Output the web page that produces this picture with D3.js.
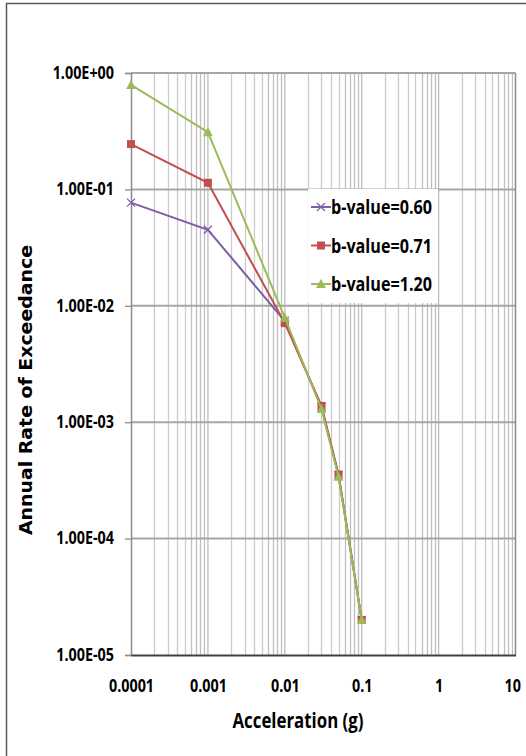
<!DOCTYPE html>
<html>
<head>
<meta charset="utf-8">
<script src="https://cdn.jsdelivr.net/npm/d3@7"></script>
<style>
  body { margin: 0; background: #fff; overflow: hidden; }
  text { fill: #000; }
</style>
</head>
<body>
<div id="chart-area"></div>
<script>
//////////////////////////////////////////////
// Data //////////////////////////////////////
//////////////////////////////////////////////
var accel = [0.0001, 0.001, 0.01, 0.03, 0.05, 0.1];

var rate060 = [0.077, 0.045, 0.0074, 0.00135, 0.00035, 0.00002];
var rate071 = [0.245, 0.114, 0.0071, 0.00138, 0.000355, 0.00002];
var rate120 = [0.79, 0.31, 0.0079, 0.00130, 0.000340, 0.00002];

var seriesNames = ["b-value=0.60", "b-value=0.71", "b-value=1.20"];

var xTickValues = [0.0001, 0.001, 0.01, 0.1, 1, 10];
var xTickLabels = ["0.0001", "0.001", "0.01", "0.1", "1", "10"];
var yTickValues = [1, 0.1, 0.01, 0.001, 0.0001, 0.00001];
var yTickLabels = ["1.00E+00", "1.00E-01", "1.00E-02", "1.00E-03", "1.00E-04", "1.00E-05"];

var series = [
    {name: seriesNames[0], values: rate060, color: "#7e5ea8", marker: "x"},
    {name: seriesNames[1], values: rate071, color: "#c0504d", marker: "square"},
    {name: seriesNames[2], values: rate120, color: "#9bbb59", marker: "triangle"}
];

//////////////////////////////////////////////
// Chart Config /////////////////////////////
//////////////////////////////////////////////
var W = 526, H = 756;
var margin = {top: 73, right: 10, bottom: 101, left: 131};
var width = 515.5 - margin.left,
    height = 655 - margin.top;

var labelFont = "'Open Sans', 'Liberation Sans', sans-serif";
var squeeze = 0.82; // narrow the bold labels a bit, like the original font

var xScale = d3.scaleLog().domain([0.0001, 10]).range([0, width]);
var yScale = d3.scaleLog().domain([0.00001, 1]).range([height, 0]);

var svg = d3.select("#chart-area")
    .append("svg")
    .attr("width", W)
    .attr("height", H);

// outer chart border
svg.append("rect")
    .attr("x", 6.5).attr("y", 3.5)
    .attr("width", 540).attr("height", 760)
    .attr("fill", "#fff")
    .attr("stroke", "#5a5a5a")
    .attr("stroke-width", 1.5);

var g = svg.append("g")
    .attr("transform", "translate(" + margin.left + "," + margin.top + ")");

// minor vertical grid (2..9 in every decade)
var minorX = [];
for (var e = -4; e < 1; e++) {
    for (var m = 2; m <= 9; m++) minorX.push(m * Math.pow(10, e));
}
g.append("g").attr("class", "xgrid")
    .selectAll("line").data(minorX).enter().append("line")
    .attr("x1", function(d) { return Math.round(xScale(d)) + 0.5; })
    .attr("x2", function(d) { return Math.round(xScale(d)) + 0.5; })
    .attr("y1", 0).attr("y2", height)
    .attr("stroke", function(d, i) { return (i % 8) < 4 ? "#cccccc" : "#bfbfbf"; })
    .attr("stroke-width", 1.3);

// decade vertical lines
g.append("g")
    .selectAll("line").data(xTickValues.slice(1, 5)).enter().append("line")
    .attr("x1", function(d) { return xScale(d); })
    .attr("x2", function(d) { return xScale(d); })
    .attr("y1", 0).attr("y2", height)
    .attr("stroke", "#bdbdbd")
    .attr("stroke-width", 1.3);

// horizontal decade grid
g.append("g").attr("class", "ygrid")
    .selectAll("line").data(yTickValues.slice(0, 5)).enter().append("line")
    .attr("x1", 0).attr("x2", width)
    .attr("y1", function(d) { return yScale(d); })
    .attr("y2", function(d) { return yScale(d); })
    .attr("stroke", "#a6a6a6")
    .attr("stroke-width", 2);

// right border of plot
g.append("line")
    .attr("x1", width).attr("x2", width)
    .attr("y1", 0).attr("y2", height)
    .attr("stroke", "#8c8c8c").attr("stroke-width", 1.5);

// squeeze text horizontally around its anchor
function narrow(sel, k) {
    sel.each(function() {
        var t = d3.select(this);
        var w = this.getComputedTextLength();
        t.attr("textLength", w * k).attr("lengthAdjust", "spacingAndGlyphs");
    });
}

// Y axis
var yAxis = d3.axisLeft(yScale)
    .tickValues(yTickValues)
    .tickFormat(function(d, i) { return yTickLabels[i]; })
    .tickSize(6)
    .tickPadding(11);
var yAxisEl = g.append("g").call(yAxis);
yAxisEl.select(".domain").attr("stroke", "#8c8c8c").attr("stroke-width", 1.5);
yAxisEl.selectAll(".tick line").attr("stroke", "#8c8c8c").attr("stroke-width", 1.3);
yAxisEl.selectAll(".tick text")
    .style("font-family", labelFont)
    .style("font-weight", "bold")
    .style("font-size", "17.5px")
    .attr("dy", "0.3em")
    .call(narrow, squeeze);

// X axis
var xAxis = d3.axisBottom(xScale)
    .tickValues(xTickValues)
    .tickFormat(function(d, i) { return xTickLabels[i]; })
    .tickSize(0)
    .tickPadding(24);
var xAxisEl = g.append("g")
    .attr("transform", "translate(0," + height + ")")
    .call(xAxis);
xAxisEl.select(".domain").attr("stroke", "#404040").attr("stroke-width", 2);
xAxisEl.selectAll(".tick text")
    .style("font-family", labelFont)
    .style("font-weight", "bold")
    .style("font-size", "17.5px")
    .attr("dy", "0.36em")
    .attr("y", 31)
    .call(narrow, squeeze);
// last label sits right at the window edge: keep it inside
xAxisEl.selectAll(".tick text").filter(function(d) { return d === 10; })
    .attr("text-anchor", "end")
    .attr("x", 5);

// axis titles
svg.append("text")
    .attr("x", 298).attr("y", 728)
    .attr("text-anchor", "middle")
    .style("font-family", labelFont)
    .style("font-weight", "bold")
    .style("font-size", "21px")
    .attr("textLength", 131)
    .attr("lengthAdjust", "spacingAndGlyphs")
    .text("Acceleration (g)");

svg.append("text")
    .attr("transform", "translate(32,390) rotate(-90)")
    .attr("text-anchor", "middle")
    .style("font-family", "'DejaVu Sans', Verdana, sans-serif")
    .style("font-weight", "bold")
    .style("font-size", "17.5px")
    .attr("textLength", 290)
    .attr("lengthAdjust", "spacingAndGlyphs")
    .text("Annual Rate of Exceedance");

//////////////////////////////////////////////
// Drawing ///////////////////////////////////
//////////////////////////////////////////////
var line = d3.line()
    .x(function(d, i) { return xScale(accel[i]); })
    .y(function(d) { return yScale(d); });

function drawMarker(sel, type, color, size) {
    if (type === "square") {
        sel.append("rect")
            .attr("x", -size / 2).attr("y", -size / 2)
            .attr("width", size).attr("height", size)
            .attr("fill", color);
    } else if (type === "triangle") {
        var s = size * 1.1;
        sel.append("path")
            .attr("d", "M0," + (-s * 0.6) + "L" + (s * 0.55) + "," + (s * 0.45) + "L" + (-s * 0.55) + "," + (s * 0.45) + "Z")
            .attr("fill", color);
    } else {
        var h = size / 2;
        sel.append("path")
            .attr("d", "M" + (-h) + "," + (-h) + "L" + h + "," + h + "M" + (-h) + "," + h + "L" + h + "," + (-h))
            .attr("stroke", color)
            .attr("stroke-width", 1.3)
            .attr("fill", "none");
    }
}

series.forEach(function(s) {
    var sg = g.append("g");
    sg.append("path")
        .datum(s.values)
        .attr("d", line)
        .attr("fill", "none")
        .attr("stroke", s.color)
        .attr("stroke-width", 2);
    s.values.forEach(function(v, i) {
        var mg = sg.append("g")
            .attr("transform", "translate(" + xScale(accel[i]) + "," + yScale(v) + ")");
        drawMarker(mg, s.marker, s.color, 8);
    });
});

// Legend
var legend = svg.append("g").attr("transform", "translate(308,189)");
legend.append("rect")
    .attr("x", 0).attr("y", 0)
    .attr("width", 130).attr("height", 114)
    .attr("fill", "#fff");

series.forEach(function(s, i) {
    var row = legend.append("g").attr("transform", "translate(0," + (18 + i * 38.5) + ")");
    row.append("line")
        .attr("x1", 3).attr("x2", 23)
        .attr("y1", 0).attr("y2", 0)
        .attr("stroke", s.color)
        .attr("stroke-width", 2);
    var mg = row.append("g").attr("transform", "translate(13,0)");
    drawMarker(mg, s.marker, s.color, 8);
    row.append("text")
        .attr("x", 23).attr("y", 0)
        .attr("dy", "0.36em")
        .style("font-family", labelFont)
        .style("font-weight", "bold")
        .style("font-size", "20px")
        .attr("textLength", 101)
        .attr("lengthAdjust", "spacingAndGlyphs")
        .text(s.name);
});
</script>
</body>
</html>
